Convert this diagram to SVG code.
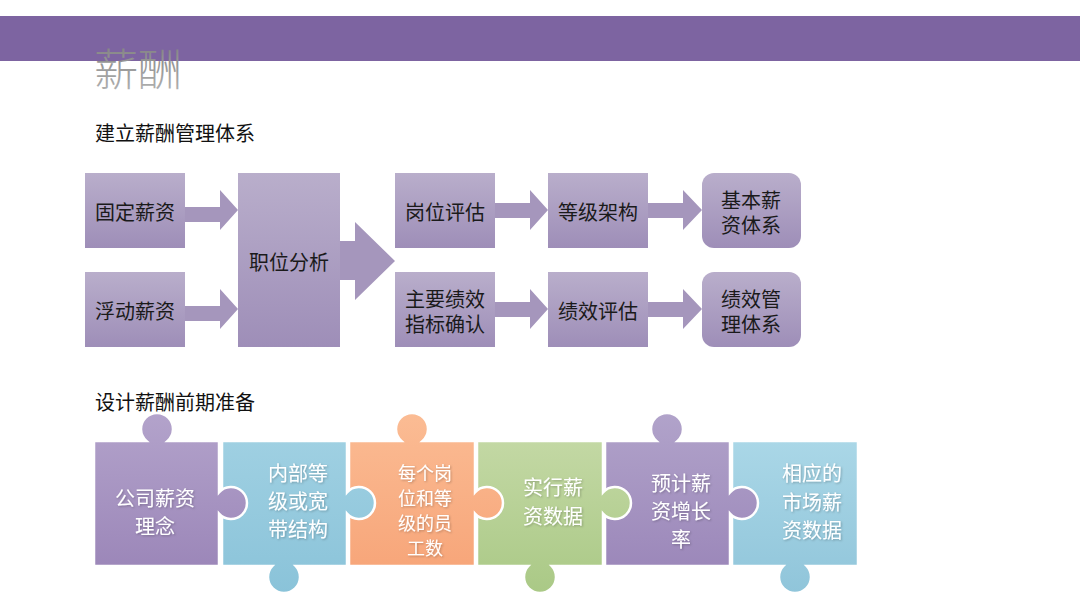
<svg xmlns="http://www.w3.org/2000/svg" width="1080" height="608" viewBox="0 0 1080 608">
<style>
text{font-family:"Noto Sans CJK SC","Liberation Sans",sans-serif}
.h{font-size:20px;fill:#111}
.bt{font-size:20px;fill:#1a1a1a;text-anchor:middle;dominant-baseline:central}
.pt{font-size:20px;fill:#fff;text-anchor:middle;dominant-baseline:central}
.box{fill:url(#gBox)}
.arr{fill:#a596bc}
.pz{stroke:#fff;stroke-width:2.5}
</style>
<defs>
<linearGradient id="gBox" x1="0" y1="0" x2="0" y2="1"><stop offset="0" stop-color="#b9aecb"/><stop offset="1" stop-color="#9e8eb8"/></linearGradient>
<linearGradient id="gTitle" x1="0" y1="0" x2="0" y2="1"><stop offset="0" stop-color="#7a7a7a"/><stop offset="1" stop-color="#b8b8b8"/></linearGradient>
<linearGradient id="g1" x1="0" y1="0" x2="0" y2="1"><stop offset="0" stop-color="#b3a3cb"/><stop offset="1" stop-color="#9c87b9"/></linearGradient>
<linearGradient id="g2" x1="0" y1="0" x2="0" y2="1"><stop offset="0" stop-color="#9fd0e2"/><stop offset="1" stop-color="#8ac3d9"/></linearGradient>
<linearGradient id="g3" x1="0" y1="0" x2="0" y2="1"><stop offset="0" stop-color="#fbbc94"/><stop offset="1" stop-color="#f7a67a"/></linearGradient>
<linearGradient id="g4" x1="0" y1="0" x2="0" y2="1"><stop offset="0" stop-color="#c3d8a4"/><stop offset="1" stop-color="#aac986"/></linearGradient>
<linearGradient id="g5" x1="0" y1="0" x2="0" y2="1"><stop offset="0" stop-color="#b1a3ca"/><stop offset="1" stop-color="#9c88ba"/></linearGradient>
<linearGradient id="g6" x1="0" y1="0" x2="0" y2="1"><stop offset="0" stop-color="#aad7e7"/><stop offset="1" stop-color="#90c5da"/></linearGradient>
<filter id="sh" x="-10%" y="-10%" width="120%" height="130%"><feDropShadow dx="1" dy="1" stdDeviation="0.8" flood-color="#000" flood-opacity="0.25"/></filter>
</defs>
<rect width="1080" height="608" fill="#fff"/>
<rect x="0" y="16" width="1080" height="45" fill="#7d64a1"/>
<text x="94" y="86" font-size="44" font-weight="300" fill="url(#gTitle)">薪酬</text>
<text class="h" x="95" y="141">建立薪酬管理体系</text>
<text class="h" x="95" y="410">设计薪酬前期准备</text>

<g id="connectors">
<path class="arr" d="M185,207 H220 V190 L238,210 L220,230 V222 H185 Z"/>
<path class="arr" d="M185,306 H220 V289 L238,309 L220,329 V321 H185 Z"/>
<path class="arr" d="M340,241 H355 V222 L395,261 L355,300 V280 H340 Z"/>
<path class="arr" d="M495,203 H530 V190 L548,210 L530,230 V218 H495 Z"/>
<path class="arr" d="M648,203 H683 V190 L702,210 L683,230 V218 H648 Z"/>
<path class="arr" d="M495,302 H530 V289 L548,309 L530,329 V317 H495 Z"/>
<path class="arr" d="M648,302 H683 V289 L702,309 L683,329 V317 H648 Z"/>
</g>

<g id="n-fixed"><rect class="box" x="85" y="173" width="100" height="75"/><text class="bt" x="135" y="211">固定薪资</text></g>
<g id="n-float"><rect class="box" x="85" y="272" width="100" height="75"/><text class="bt" x="135" y="310">浮动薪资</text></g>
<g id="n-job"><rect class="box" x="238" y="173" width="102" height="174"/><text class="bt" x="289" y="261">职位分析</text></g>
<g id="n-eval"><rect class="box" x="395" y="173" width="100" height="75"/><text class="bt" x="445" y="211">岗位评估</text></g>
<g id="n-grade"><rect class="box" x="548" y="173" width="100" height="75"/><text class="bt" x="598" y="211">等级架构</text></g>
<g id="n-base"><rect class="box" x="702" y="173" width="99" height="75" rx="12"/><text class="bt" x="751" y="199">基本薪</text><text class="bt" x="751" y="224">资体系</text></g>
<g id="n-kpi"><rect class="box" x="395" y="272" width="100" height="75"/><text class="bt" x="445" y="298">主要绩效</text><text class="bt" x="445" y="323">指标确认</text></g>
<g id="n-perf"><rect class="box" x="548" y="272" width="100" height="75"/><text class="bt" x="598" y="310">绩效评估</text></g>
<g id="n-perfsys"><rect class="box" x="702" y="272" width="99" height="75" rx="12"/><text class="bt" x="751" y="298">绩效管</text><text class="bt" x="751" y="323">理体系</text></g>

<g id="p6"><path class="pz" fill="url(#g6)" d="M732,441 H858 V566 H806.6 A16,16 0 1,1 783.4,566 H732 Z"/>
<g filter="url(#sh)"><text class="pt" x="812" y="472">相应的</text><text class="pt" x="812" y="501">市场薪</text><text class="pt" x="812" y="529">资数据</text></g></g>
<g id="p5"><path class="pz" fill="url(#g5)" d="M605,441 H656.4 A16,16 0 1,1 677.6,441 H730 V492.4 A16,16 0 1,1 730,513.6 V566 H605 Z"/>
<g filter="url(#sh)"><text class="pt" x="681" y="482">预计薪</text><text class="pt" x="681" y="510">资增长</text><text class="pt" x="681" y="538">率</text></g></g>
<g id="p4"><path class="pz" fill="url(#g4)" d="M477,441 H603 V492.4 A16,16 0 1,1 603,513.6 V566 H551.6 A16,16 0 1,1 528.4,566 H477 Z"/>
<g filter="url(#sh)"><text class="pt" x="553" y="486">实行薪</text><text class="pt" x="553" y="515">资数据</text></g></g>
<g id="p3"><path class="pz" fill="url(#g3)" d="M349,441 H401.4 A16,16 0 1,1 422.6,441 H475 V492.4 A16,16 0 1,1 475,513.6 V566 H349 Z"/>
<g filter="url(#sh)" font-size="18"><text class="pt" x="425" y="472" style="font-size:18px">每个岗</text><text class="pt" x="425" y="497" style="font-size:18px">位和等</text><text class="pt" x="425" y="522" style="font-size:18px">级的员</text><text class="pt" x="425" y="547" style="font-size:18px">工数</text></g></g>
<g id="p2"><path class="pz" fill="url(#g2)" d="M222,441 H347 V492.4 A16,16 0 1,1 347,513.6 V566 H295.6 A16,16 0 1,1 272.4,566 H222 Z"/>
<g filter="url(#sh)"><text class="pt" x="298" y="472">内部等</text><text class="pt" x="298" y="500">级或宽</text><text class="pt" x="298" y="528">带结构</text></g></g>
<g id="p1"><path class="pz" fill="url(#g1)" d="M94,441 H146.4 A16,16 0 1,1 167.6,441 H219 V492.4 A16,16 0 1,1 219,513.6 V566 H94 Z"/>
<g filter="url(#sh)"><text class="pt" x="155" y="497">公司薪资</text><text class="pt" x="155" y="525">理念</text></g></g>
</svg>
